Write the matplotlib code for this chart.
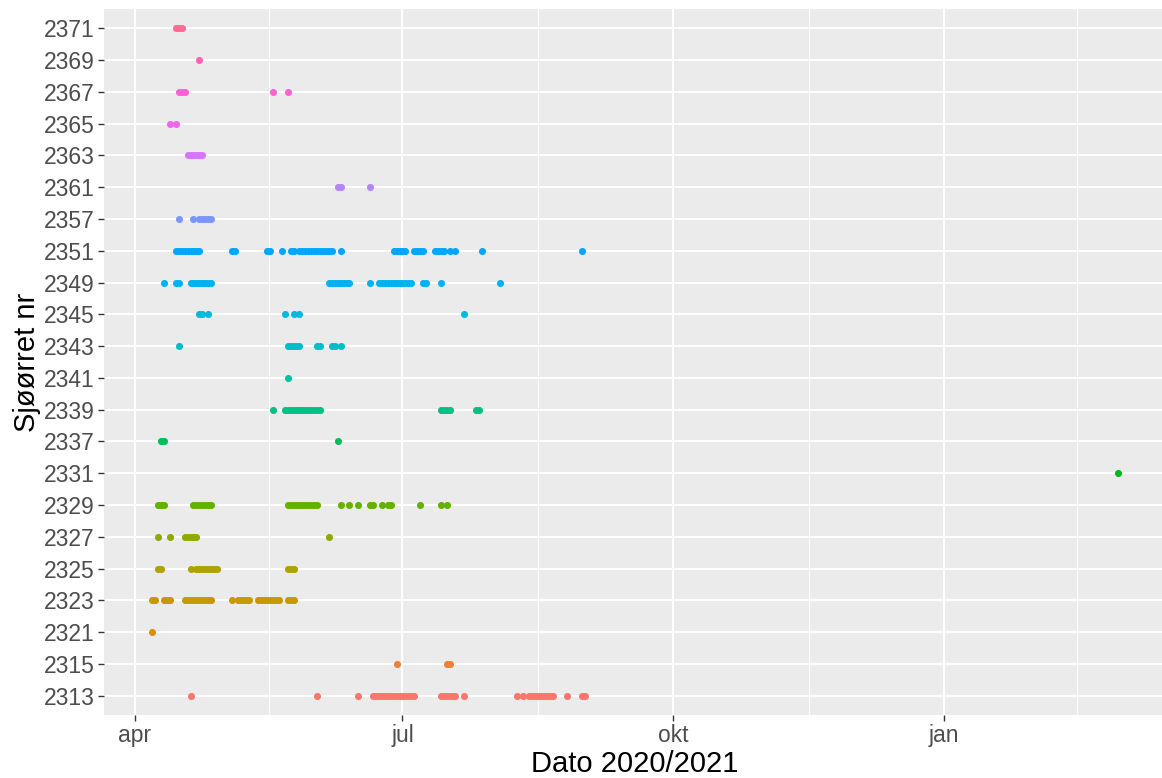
import numpy as np
import pandas as pd
import matplotlib
matplotlib.use("Agg")
import matplotlib.pyplot as plt
import matplotlib.dates as mdates

# ---------------- data (fish id -> detection dates "MM-DD"; Jan-Mar = 2021) ----
fish_ids = ["2313", "2315", "2321", "2323", "2325", "2327", "2329", "2331",
            "2337", "2339", "2341", "2343", "2345", "2349", "2351", "2357",
            "2361", "2363", "2365", "2367", "2369", "2371"]

d2313 = ["04-20", "06-02", "06-16",
         "06-21", "06-22", "06-23", "06-24", "06-25", "06-26", "06-27", "06-28",
         "06-29", "06-30", "07-01", "07-02", "07-03", "07-04", "07-05",
         "07-14", "07-15", "07-16", "07-17", "07-18", "07-19", "07-22",
         "08-09", "08-11", "08-13", "08-14", "08-15", "08-16", "08-17", "08-18",
         "08-19", "08-20", "08-21", "08-26", "08-31", "09-01"]
d2315 = ["06-29", "07-16", "07-17"]
d2321 = ["04-07"]
d2323 = ["04-07", "04-08", "04-11", "04-12", "04-13",
         "04-18", "04-19", "04-20", "04-21", "04-22", "04-23", "04-24", "04-25",
         "04-26", "04-27", "05-04", "05-06", "05-07", "05-08", "05-09", "05-10",
         "05-13", "05-14", "05-15", "05-16", "05-17", "05-18", "05-19", "05-20",
         "05-23", "05-24", "05-25"]
d2325 = ["04-09", "04-10", "04-20", "04-22", "04-23", "04-24", "04-25", "04-26",
         "04-27", "04-28", "04-29", "05-23", "05-24", "05-25"]
d2327 = ["04-09", "04-13", "04-18", "04-19", "04-20", "04-21", "04-22", "06-06"]
d2329 = ["04-09", "04-10", "04-11",
         "04-21", "04-22", "04-23", "04-24", "04-25", "04-26", "04-27",
         "05-23", "05-24", "05-25", "05-26", "05-27", "05-28", "05-29", "05-30",
         "05-31", "06-01", "06-02", "06-10", "06-13", "06-16", "06-20", "06-21",
         "06-24", "06-26", "06-27", "07-07", "07-14", "07-16"]
d2331 = ["03-01"]
d2337 = ["04-10", "04-11", "06-09"]
d2339 = ["05-18", "05-22", "05-23", "05-24", "05-25", "05-26", "05-27", "05-28",
         "05-29", "05-30", "05-31", "06-01", "06-02", "06-03",
         "07-14", "07-15", "07-16", "07-17", "07-26", "07-27"]
d2341 = ["05-23"]
d2343 = ["04-16", "05-23", "05-24", "05-25", "05-26", "05-27",
         "06-02", "06-03", "06-07", "06-08", "06-10"]
d2345 = ["04-23", "04-24", "04-26", "05-22", "05-25", "05-27", "07-22"]
d2349 = ["04-11", "04-15", "04-16",
         "04-20", "04-21", "04-22", "04-23", "04-24", "04-25", "04-26", "04-27",
         "06-06", "06-07", "06-08", "06-09", "06-10", "06-11", "06-12", "06-13",
         "06-20", "06-23", "06-24", "06-25", "06-26", "06-27", "06-28", "06-29",
         "06-30", "07-01", "07-02", "07-03", "07-04", "07-08", "07-09", "07-14",
         "08-03"]
d2351 = ["04-15", "04-16", "04-17", "04-18", "04-19", "04-20", "04-21", "04-22",
         "04-23", "05-04", "05-05", "05-16", "05-17", "05-21", "05-24", "05-25",
         "05-27", "05-28", "05-29", "05-30", "05-31", "06-01", "06-02", "06-03",
         "06-04", "06-05", "06-06", "06-07", "06-10",
         "06-28", "06-29", "06-30", "07-01", "07-02", "07-05", "07-06", "07-07",
         "07-08", "07-12", "07-13", "07-14", "07-15", "07-17", "07-19", "07-28",
         "08-31"]
d2357 = ["04-16", "04-21", "04-23", "04-24", "04-25", "04-26", "04-27"]
d2361 = ["06-09", "06-10", "06-20"]
d2363 = ["04-19", "04-20", "04-21", "04-22", "04-23", "04-24"]
d2365 = ["04-13", "04-15"]
d2367 = ["04-16", "04-17", "04-18", "05-18", "05-23"]
d2369 = ["04-23"]
d2371 = ["04-15", "04-16", "04-17"]

detections = [d2313, d2315, d2321, d2323, d2325, d2327, d2329, d2331, d2337,
              d2339, d2341, d2343, d2345, d2349, d2351, d2357, d2361, d2363,
              d2365, d2367, d2369, d2371]

x_tick_labels = ["apr", "jul", "okt", "jan"]
x_tick_dates = ["2020-04-01", "2020-07-01", "2020-10-01", "2021-01-01"]
x_label = "Dato 2020/2021"
y_label = "Sjøørret nr"


def to_date(md):
    m = int(md[:2])
    year = 2021 if m <= 3 else 2020
    return pd.Timestamp(f"{year}-{md}")


# ggplot2 hue palette (hcl, c=100, l=65)
def hcl_to_rgb(h, c=100.0, l=65.0):
    hr = np.deg2rad(h)
    u, v = c * np.cos(hr), c * np.sin(hr)
    Xn, Yn, Zn = 95.047, 100.0, 108.883
    Y = Yn * ((l + 16) / 116) ** 3 if l > 8 else Yn * l / 903.3
    un = 4 * Xn / (Xn + 15 * Yn + 3 * Zn)
    vn = 9 * Yn / (Xn + 15 * Yn + 3 * Zn)
    up = u / (13 * l) + un
    vp = v / (13 * l) + vn
    X = 9 * Y * up / (4 * vp)
    Z = Y * (12 - 3 * up - 20 * vp) / (4 * vp)
    X, Y, Z = X / 100, Y / 100, Z / 100
    r = 3.2404542 * X - 1.5371385 * Y - 0.4985314 * Z
    g = -0.9692660 * X + 1.8760108 * Y + 0.0415560 * Z
    b = 0.0556434 * X - 0.2040259 * Y + 1.0572252 * Z
    out = []
    for ch in (r, g, b):
        ch = 12.92 * ch if ch <= 0.0031308 else 1.055 * ch ** (1 / 2.4) - 0.055
        out.append(min(max(ch, 0), 1))
    return tuple(out)


n = len(fish_ids)
hues = np.linspace(15, 375, n + 1)[:-1]
colors = [hcl_to_rgb(h % 360) for h in hues]

plt.rcParams["font.family"] = ["Liberation Sans", "DejaVu Sans"]

W, H = 1162, 778
fig = plt.figure(figsize=(W / 100, H / 100), dpi=100)
left_px, right_px, top_px, bot_px = 104, 1166, 9.2, 714.8
ax = fig.add_axes([left_px / W, 1 - bot_px / H, (right_px - left_px) / W,
                   (bot_px - top_px) / H])
ax.set_facecolor("#EBEBEB")
for s in ax.spines.values():
    s.set_visible(False)

all_dates = []
for i, (fid, dl) in enumerate(zip(fish_ids, detections)):
    dts = [to_date(d) for d in dl]
    all_dates += dts
    ax.scatter(dts, [i] * len(dts), s=26, color=colors[i], linewidths=0,
               zorder=3)

dmin, dmax = min(all_dates), max(all_dates)
span = dmax - dmin
ax.set_xlim(mdates.date2num(dmin - 0.05 * span), mdates.date2num(dmax + 0.05 * span))
ax.set_ylim(-0.6, n - 1 + 0.6)

major = [pd.Timestamp(d) for d in x_tick_dates]
major_num = mdates.date2num(major)
ax.set_xticks(major_num)
ax.set_xticklabels(x_tick_labels)
minor_num = [(a + b) / 2 for a, b in zip(major_num[:-1], major_num[1:])]
minor_num.append(major_num[-1] + (mdates.date2num(pd.Timestamp("2021-04-01")) - major_num[-1]) / 2)
ax.set_xticks(minor_num, minor=True)

ax.set_yticks(range(n))
ax.set_yticklabels(fish_ids)

ax.grid(which="major", color="white", linewidth=1.4, zorder=0)
ax.grid(which="minor", axis="x", color="white", linewidth=0.7, zorder=0)
ax.set_axisbelow(True)

ax.tick_params(axis="both", which="major", length=4, width=1, color="#333333",
               labelsize=16.5, labelcolor="#4D4D4D", pad=2.5)
ax.tick_params(axis="x", which="minor", length=0)

ax.set_xlabel(x_label, fontsize=21, color="black", labelpad=2)
ax.set_ylabel(y_label, fontsize=21, color="black", labelpad=2)

fig.savefig("out.png", dpi=100)
